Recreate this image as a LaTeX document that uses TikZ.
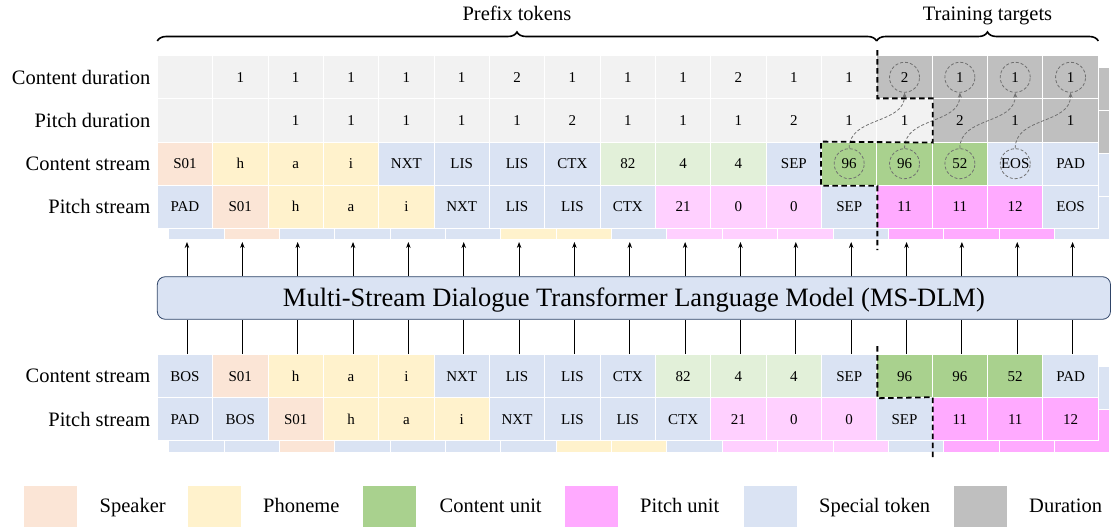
\documentclass[tikz,border=0pt]{standalone}
\usepackage{fontspec}
\setmainfont{Liberation Serif}
\usetikzlibrary{decorations.pathreplacing,arrows.meta,calc}
\definecolor{cspk}{HTML}{FBE5D6}
\definecolor{cphn}{HTML}{FFF2CC}
\definecolor{ccu}{HTML}{A9D18E}
\definecolor{ccul}{HTML}{E2F0D9}
\definecolor{cpu}{HTML}{FFAAFF}
\definecolor{cpul}{HTML}{FFD0FF}
\definecolor{csp}{HTML}{DAE3F3}
\definecolor{cdur}{HTML}{BFBFBF}
\definecolor{cdurl}{HTML}{F2F2F2}
\definecolor{cbox}{HTML}{2F4468}
\definecolor{cgr}{HTML}{707070}
\begin{document}
\begin{tikzpicture}[x=1pt,y=-1pt,
  cell/.style={rectangle, draw=white, line width=1pt, minimum width=55.35pt, minimum height=43.2pt, inner sep=0pt, text height=10pt, text depth=0pt, font=\fontsize{15}{15}\selectfont},
  lbl/.style={inner sep=0pt, text height=13.6pt, text depth=0pt, font=\fontsize{20.5}{20.5}\selectfont},
  legbox/.style={rectangle, draw=white, line width=0.6pt, minimum width=54pt, minimum height=42pt, inner sep=0pt},
  arr/.style={line width=0.8pt, -{Stealth[length=6pt,width=4.5pt]}},
  plain/.style={line width=0.8pt},
  cutline/.style={line width=1.8pt, dash pattern=on 5.5pt off 3.5pt},
  dcirc/.style={circle, draw=cgr, dash pattern=on 3pt off 2pt, line width=0.8pt, minimum size=30pt, inner sep=0pt},
  garr/.style={draw=cgr, dash pattern=on 3pt off 2pt, line width=0.8pt, -{Stealth[length=5pt,width=4pt]}},
  bracestyle/.style={decorate, decoration={brace, amplitude=9pt}, line width=1.6pt}]
\useasboundingbox (0,0) rectangle (1115,529);

% ---------- top section: back layer ----------
\foreach \c [count=\i] in {csp,cspk,csp,csp,csp,csp,cphn,cphn,csp,cpul,cpul,cpul,csp,cpu,cpu,cpu,csp}
  \node[cell, fill=\c] (bps\i) at ({157.3+55.35*(\i-0.5)+11.5}, 218.4) {};
\node[cell, fill=cdur] (bcd) at ({157.3+55.35*16.5+11.5}, 88.8) {};
\node[cell, fill=cdur] (bpd) at ({157.3+55.35*16.5+11.5}, 132.0) {};
\node[cell, fill=csp] (bcs) at ({157.3+55.35*16.5+11.5}, 175.2) {};

% ---------- top section: front layer ----------
\foreach \t/\c [count=\i] in {{}/cdurl,1/cdurl,1/cdurl,1/cdurl,1/cdurl,1/cdurl,2/cdurl,1/cdurl,1/cdurl,1/cdurl,2/cdurl,1/cdurl,1/cdurl,2/cdur,1/cdur,1/cdur,1/cdur}
  \node[cell, fill=\c] (cd\i) at ({157.3+55.35*(\i-0.5)}, 77.3) {\t};
\foreach \t/\c [count=\i] in {{}/cdurl,{}/cdurl,1/cdurl,1/cdurl,1/cdurl,1/cdurl,1/cdurl,2/cdurl,1/cdurl,1/cdurl,1/cdurl,2/cdurl,1/cdurl,1/cdurl,2/cdur,1/cdur,1/cdur}
  \node[cell, fill=\c] (pd\i) at ({157.3+55.35*(\i-0.5)}, 120.5) {\t};
\foreach \t/\c [count=\i] in {S01/cspk,h/cphn,a/cphn,i/cphn,NXT/csp,LIS/csp,LIS/csp,CTX/csp,82/ccul,4/ccul,4/ccul,SEP/csp,96/ccu,96/ccu,52/ccu,EOS/csp,PAD/csp}
  \node[cell, fill=\c] (cs\i) at ({157.3+55.35*(\i-0.5)}, 163.7) {\t};
\foreach \t/\c [count=\i] in {PAD/csp,S01/cspk,h/cphn,a/cphn,i/cphn,NXT/csp,LIS/csp,LIS/csp,CTX/csp,21/cpul,0/cpul,0/cpul,SEP/csp,11/cpu,11/cpu,12/cpu,EOS/csp}
  \node[cell, fill=\c] (ps\i) at ({157.3+55.35*(\i-0.5)}, 206.9) {\t};

% row labels (top)
\node[lbl, anchor=east] (lab1) at (150.5, 77.3) {Content duration};
\node[lbl, anchor=east] (lab2) at (150.5, 120.5) {Pitch duration};
\node[lbl, anchor=east] (lab3) at (150.5, 163.7) {Content stream};
\node[lbl, anchor=east] (lab4) at (150.5, 206.9) {Pitch stream};

% braces
\draw[bracestyle] (157.3,41) -- (876.6,41);
\draw[bracestyle] (876.6,41) -- (1098.3,41);
\node[lbl] (prefix) at (516.9, 14) {Prefix tokens};
\node[lbl] (train) at (987.5, 14) {Training targets};

% dashed circles and curved arrows
\foreach \i in {14,15,16,17} \node[dcirc] (dc\i) at (cd\i) {};
\foreach \i in {13,14,15,16} \node[dcirc] (sc\i) at (cs\i) {};
\foreach \i/\j in {13/14,14/15,15/16,16/17}
  \draw[garr] (sc\i.north) .. controls +(0,-32) and +(0,32) .. (dc\j.south);

% cut line (top)
\draw[cutline] ($(cd13.north east)+(0,-5)$) -- (pd13.north east) -- (pd14.north east)
  -- (pd14.south east) -- (cs13.north west) -- (cs13.south west) -- (cs13.south east)
  -- ($(ps13.south east)+(0,21)$);

% ---------- model ----------
\node[draw=cbox, fill=csp, rounded corners=8pt, line width=0.8pt, minimum width=953.2pt, minimum height=42.6pt, inner sep=0pt, text height=17.5pt, text depth=0pt, font=\fontsize{26.5}{26.5}\selectfont] (model) at (633.9, 298) {Multi-Stream Dialogue Transformer Language Model (MS-DLM)};

% ---------- bottom section: back layer ----------
\foreach \c [count=\i] in {csp,csp,cspk,csp,csp,csp,csp,cphn,cphn,csp,cpul,cpul,cpul,csp,cpu,cpu,cpu}
  \node[cell, fill=\c] (lbps\i) at ({157.3+55.35*(\i-0.5)+11.5}, 430.8) {};
\node[cell, fill=csp] (lbcs) at ({157.3+55.35*16.5+11.5}, 387.6) {};

% ---------- bottom section: front layer ----------
\foreach \t/\c [count=\i] in {BOS/csp,S01/cspk,h/cphn,a/cphn,i/cphn,NXT/csp,LIS/csp,LIS/csp,CTX/csp,82/ccul,4/ccul,4/ccul,SEP/csp,96/ccu,96/ccu,52/ccu,PAD/csp}
  \node[cell, fill=\c] (lcs\i) at ({157.3+55.35*(\i-0.5)}, 376.1) {\t};
\foreach \t/\c [count=\i] in {PAD/csp,BOS/csp,S01/cspk,h/cphn,a/cphn,i/cphn,NXT/csp,LIS/csp,LIS/csp,CTX/csp,21/cpul,0/cpul,0/cpul,SEP/csp,11/cpu,11/cpu,12/cpu}
  \node[cell, fill=\c] (lps\i) at ({157.3+55.35*(\i-0.5)}, 419.3) {\t};

\node[lbl, anchor=east] (lab5) at (150.5, 376.1) {Content stream};
\node[lbl, anchor=east] (lab6) at (150.5, 419.3) {Pitch stream};

% cut line (bottom)
\draw[cutline] ($(lcs13.north east)+(0,-8)$) -- (lcs13.south east) -- (lps14.north east)
  -- ($(lps14.south east)+(0,16)$);

% connectors
\foreach \i in {1,...,17} {
  \draw[plain] ($(lcs\i.north)+(2,0)$) -- ($(model.south -| lcs\i)+(2,0)$);
  \draw[arr] ($(model.north -| cs\i)+(2,0)$) -- ($(bps\i.south -| cs\i)+(2,1.5)$);
}

% ---------- legend ----------
\node[legbox, fill=cspk] (k1) at (49.8, 506) {};
\node[lbl, anchor=west] (t1) at (99.5, 506) {Speaker};
\node[legbox, fill=cphn] (k2) at (214.4, 506) {};
\node[lbl, anchor=west] (t2) at (263, 506) {Phoneme};
\node[legbox, fill=ccu] (k3) at (389.7, 506) {};
\node[lbl, anchor=west] (t3) at (439.5, 506) {Content unit};
\node[legbox, fill=cpu] (k4) at (591, 506) {};
\node[lbl, anchor=west] (t4) at (640, 506) {Pitch unit};
\node[legbox, fill=csp] (k5) at (769.8, 506) {};
\node[lbl, anchor=west] (t5) at (819, 506) {Special token};
\node[legbox, fill=cdur] (k6) at (980.5, 506) {};
\node[lbl, anchor=west] (t6) at (1029, 506) {Duration};
\end{tikzpicture}
\end{document}
